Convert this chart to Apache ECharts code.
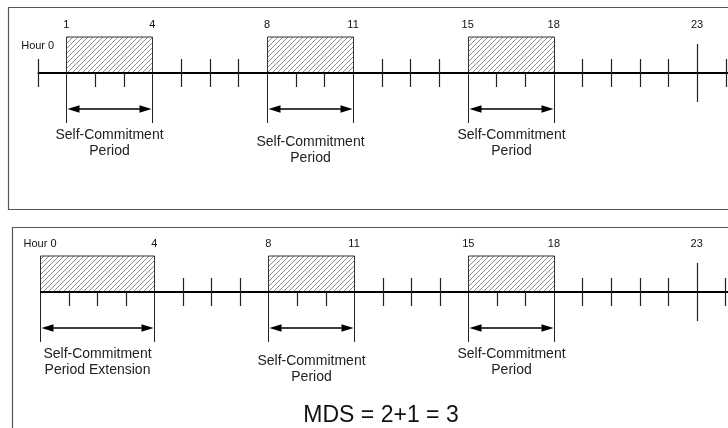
<!DOCTYPE html>
<html><head><meta charset="utf-8">
<script src="https://cdn.jsdelivr.net/npm/echarts@6/dist/echarts.min.js"></script>
<style>html,body{margin:0;padding:0;background:#fff}#c{width:728px;height:428px}</style>
</head><body><div id="c"></div>
<script>
// ---- data ----
const hours = [0,1,2,3,4,5,6,7,8,9,10,11,12,13,14,15,16,17,18,19,20,21,22,23,24];
const topBlocks = [[1,4],[8,11],[15,18]];
const bottomBlocks = [[0,4],[8,11],[15,18]];
const topHourLabels = [0,1,4,8,11,15,18,23];
const bottomHourLabels = [0,4,8,11,15,18,23];
const topCaptions = ['Self-Commitment\nPeriod','Self-Commitment\nPeriod','Self-Commitment\nPeriod'];
const bottomCaptions = ['Self-Commitment\nPeriod Extension','Self-Commitment\nPeriod','Self-Commitment\nPeriod'];
const markerHour = 23;
const formulaText = 'MDS = 2+1 = 3';

// ---- layout constants ----
const captionDy = [0, 7, 0];
const FONT = 'Arial, "Liberation Sans", sans-serif';

// hatch pattern
const pc = document.createElement('canvas');
const S = 5; pc.width = S; pc.height = S;
const ctx = pc.getContext('2d');
ctx.fillStyle = '#fff'; ctx.fillRect(0,0,S,S);
ctx.strokeStyle = '#8c8c8c'; ctx.lineWidth = 1;
ctx.beginPath();
ctx.moveTo(0,S); ctx.lineTo(S,0);
ctx.moveTo(-1,1); ctx.lineTo(1,-1);
ctx.moveTo(S-1,S+1); ctx.lineTo(S+1,S-1);
ctx.stroke();
const hatch = {image: pc, repeat: 'repeat'};

function tickRender(blocks){
  return function(params, api){
    const h = api.value(0);
    const p = api.coord([h,0]);
    if (blocks.some(b=>b[0]===h||b[1]===h)) return null;
    const inside = blocks.some(b=>h>b[0]&&h<b[1]);
    let y1 = -14, y2 = 14;
    if (inside) y1 = 0;
    if (h===markerHour){ y1=-29; y2=29; }
    return {type:'line', shape:{x1:Math.round(p[0])+0.5,y1:p[1]+y1,x2:Math.round(p[0])+0.5,y2:p[1]+y2},
      style:{stroke:'#222',lineWidth:1.2}};
  };
}
function axisRender(params, api){
  const a = api.coord([api.value(0),0]);
  const b = api.coord([api.value(1),0]);
  return {type:'line', shape:{x1:a[0],y1:a[1],x2:b[0]+3,y2:b[1]}, style:{stroke:'#000',lineWidth:2}};
}
function labelRender(blocks){
  return function(params, api){
    const h = api.value(0);
    const p = api.coord([h,0]);
    const edge = blocks.some(b=>b[0]===h||b[1]===h);
    const txt = h===0 ? 'Hour 0' : String(h);
    const dy = (h===0 && !edge) ? -27 : -48;
    return {type:'text', style:{text:txt, x:p[0], y:p[1]+dy, align:'center', verticalAlign:'middle',
      fontSize:11, fontFamily:FONT, fill:'#111'}};
  };
}
function blockRender(captions){
  return function(params, api){
    const i = params.dataIndex;
    const a = api.coord([api.value(0),0]);
    const b = api.coord([api.value(1),0]);
    const x1 = Math.round(a[0])+0.5, x2 = Math.round(b[0])+0.5, y = a[1];
    const ay = y+36;
    const ah = 12, aw = 3.8;
    return {type:'group', children:[
      {type:'rect', shape:{x:x1,y:y-36,width:x2-x1,height:36}, style:{fill:hatch, stroke:'#333', lineWidth:1}},
      {type:'line', shape:{x1:x1,y1:y,x2:x1,y2:y+50}, style:{stroke:'#222',lineWidth:1}},
      {type:'line', shape:{x1:x2,y1:y,x2:x2,y2:y+50}, style:{stroke:'#222',lineWidth:1}},
      {type:'line', shape:{x1:x1+ah-2,y1:ay,x2:x2-ah+2,y2:ay}, style:{stroke:'#000',lineWidth:1.5}},
      {type:'polygon', shape:{points:[[x1+1,ay],[x1+1+ah,ay-aw],[x1+1+ah,ay+aw]]}, style:{fill:'#000'}},
      {type:'polygon', shape:{points:[[x2-1,ay],[x2-1-ah,ay-aw],[x2-1-ah,ay+aw]]}, style:{fill:'#000'}},
      {type:'text', style:{text:captions[i], x:(x1+x2)/2, y:y+70+captionDy[i], align:'center', verticalAlign:'middle',
        fontSize:14, lineHeight:16, fontFamily:FONT, fill:'#222'}}
    ]};
  };
}

const chart = echarts.init(document.getElementById('c'), null, {renderer:'canvas'});
const panels = [
  {blocks: topBlocks, labels: topHourLabels, captions: topCaptions},
  {blocks: bottomBlocks, labels: bottomHourLabels, captions: bottomCaptions}
];
const series = [];
panels.forEach((pn, k) => {
  series.push({type:'custom', xAxisIndex:k, yAxisIndex:k, z:2, silent:true, clip:false,
    data: pn.blocks.map(b=>[b[0],b[1]]), renderItem: blockRender(pn.captions)});
  series.push({type:'custom', xAxisIndex:k, yAxisIndex:k, z:3, silent:true, clip:false,
    data: [[hours[0], hours[hours.length-1]]], renderItem: axisRender});
  series.push({type:'custom', xAxisIndex:k, yAxisIndex:k, z:4, silent:true, clip:false,
    data: hours.map(h=>[h]), renderItem: tickRender(pn.blocks)});
  series.push({type:'custom', xAxisIndex:k, yAxisIndex:k, z:5, silent:true, clip:false,
    data: pn.labels.map(h=>[h]), renderItem: labelRender(pn.blocks)});
});

chart.setOption({
  animation:false,
  backgroundColor:'#fff',
  grid:[
    {left:37.7, width:688, top:23, height:100},
    {left:40, width:685.2, top:242, height:100}
  ],
  xAxis:[
    {type:'value', gridIndex:0, min:0, max:24, show:false},
    {type:'value', gridIndex:1, min:0, max:24, show:false}
  ],
  yAxis:[
    {type:'value', gridIndex:0, min:-1, max:1, show:false},
    {type:'value', gridIndex:1, min:-1, max:1, show:false}
  ],
  graphic:[
    {type:'rect', shape:{x:8.5,y:7.5,width:740,height:202}, style:{fill:'none',stroke:'#555',lineWidth:1.2}, silent:true},
    {type:'rect', shape:{x:12.5,y:227.5,width:740,height:230}, style:{fill:'none',stroke:'#555',lineWidth:1.2}, silent:true},
    {type:'text', x:381, y:415.5, style:{text:formulaText, align:'center', verticalAlign:'middle',
      fontSize:23, fontFamily:FONT, fill:'#111'}, silent:true}
  ],
  series: series
});
</script>
</body></html>
